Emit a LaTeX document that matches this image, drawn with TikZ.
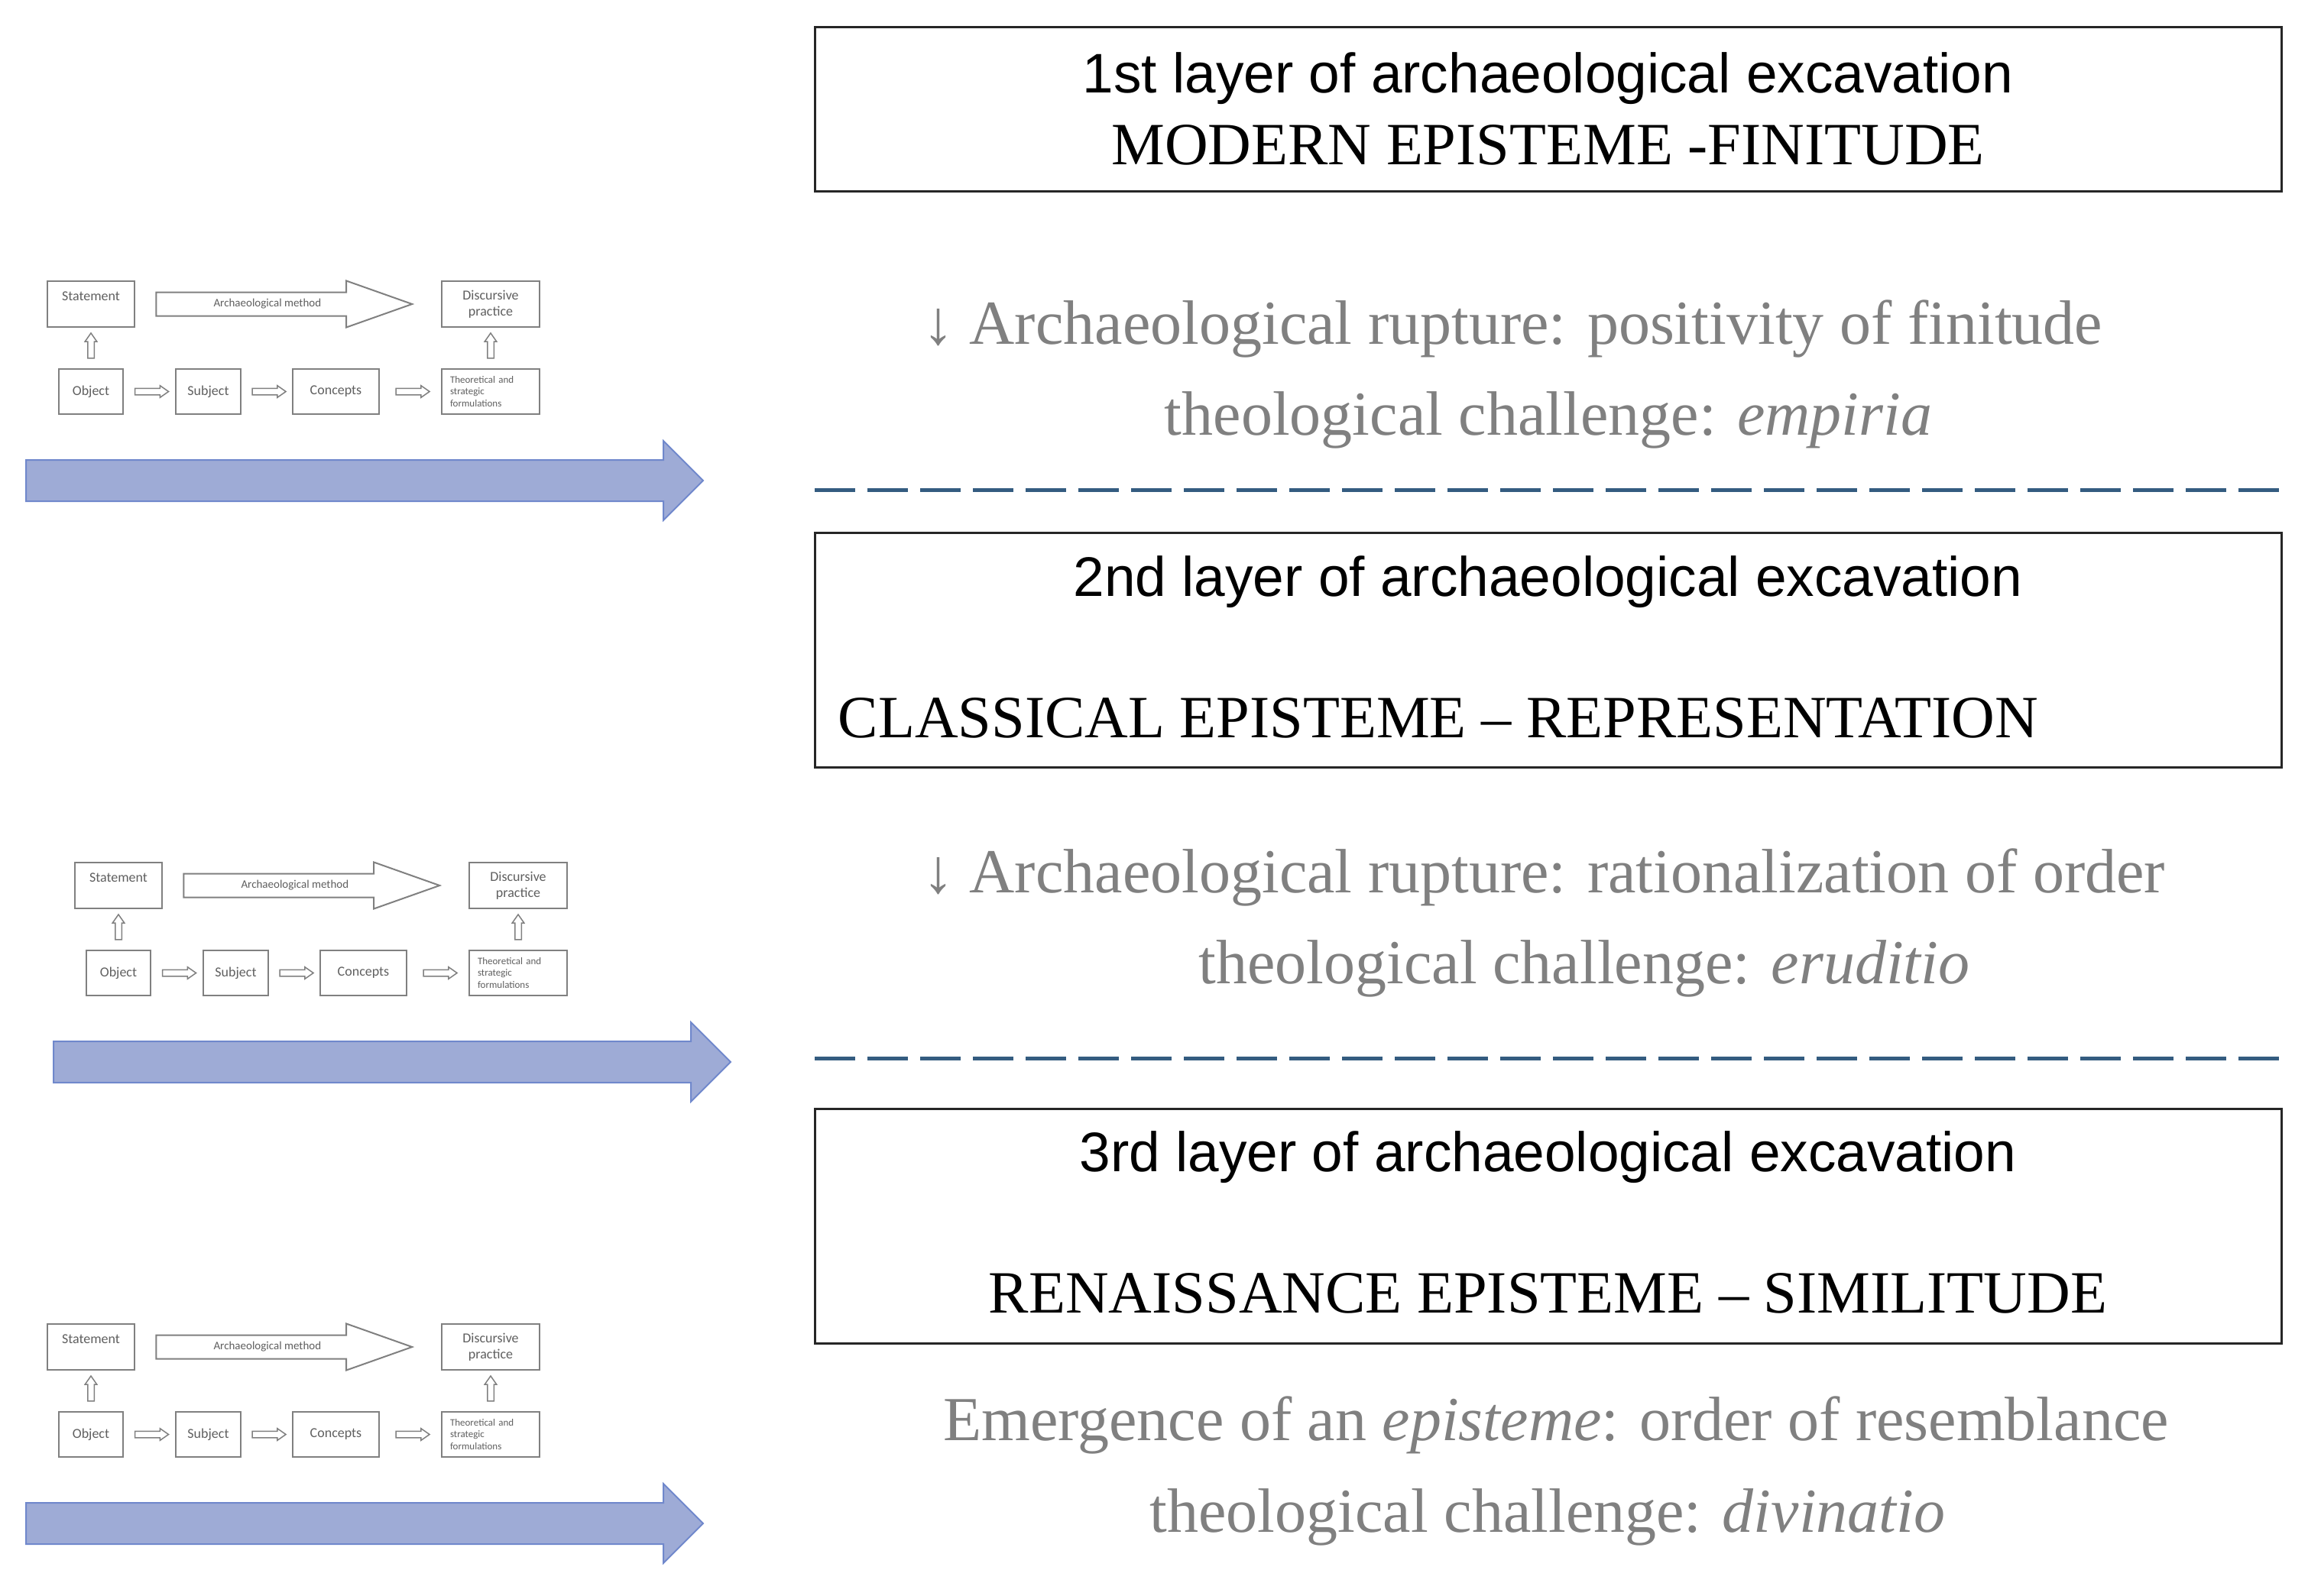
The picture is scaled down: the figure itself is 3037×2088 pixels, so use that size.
\documentclass[tikz,border=0pt]{standalone}
\usepackage{fontspec}
\setmainfont{Liberation Serif}
\newfontfamily\headfont{Liberation Sans}
\newfontfamily\sketchfont{Carlito}
\usetikzlibrary{shapes.arrows}

\definecolor{sepblue}{RGB}{52,92,128}
\definecolor{flowfill}{RGB}{158,171,214}
\definecolor{flowdraw}{RGB}{112,136,204}
\definecolor{sketchgray}{RGB}{128,128,128}
\definecolor{sketchtext}{RGB}{95,95,95}
\definecolor{rupturegray}{RGB}{128,128,128}

\tikzset{
  layerbox/.style={draw=black!85, line width=3pt, minimum width=1919pt, minimum height=307pt, inner sep=0pt},
  headtext/.style={font=\headfont\fontsize{73}{80}\selectfont, inner sep=0pt, anchor=base},
  epistext/.style={font=\fontsize{78.5}{86}\selectfont, inner sep=0pt, anchor=base},
  rupturetext/.style={text=rupturegray, font=\fontsize{82}{90}\selectfont, inner sep=0pt, anchor=base},
  sepline/.style={draw=sepblue, line width=5pt, dash pattern=on 53pt off 16pt},
  sketchbox/.style={draw=sketchgray, line width=2.5pt, inner sep=0pt, text=sketchtext,
    font=\sketchfont\fontsize{18}{21}\selectfont, align=center},
  sketcharrow/.style={single arrow, draw=sketchgray, line width=1.5pt, fill=white, inner sep=0pt,
    inner ysep=3.5pt, single arrow head extend=3.5pt, single arrow tip angle=70, minimum height=44pt},
  methodarrow/.style={single arrow, draw=sketchgray, line width=2pt, fill=white, inner sep=0pt,
    text height=9pt, text depth=2pt, inner ysep=9pt, single arrow head extend=15pt,
    single arrow tip angle=39, minimum height=335pt, text=sketchtext,
    font=\sketchfont\fontsize{15}{17}\selectfont},
  flowarrow/.style={single arrow, fill=flowfill, draw=flowdraw, line width=2pt, inner sep=0pt,
    inner ysep=26pt, single arrow head extend=25pt, single arrow tip angle=90, minimum height=886pt}
}

\begin{document}
\begin{tikzpicture}[x=1pt, y=-1pt]
	\useasboundingbox (0,0) rectangle (3037,2088);
	% method sketches and time arrows on the left
	\foreach \dx/\dy/\p in {0/0/a, 36/761/b, 0/1365/c} {
		\begin{scope}[shift={(\dx,\dy)}, name prefix=\p-]
			\node[sketchbox, minimum width=114pt, minimum height=60pt] (stmt) at (119,398) {Statement\\~};
			\node[sketchbox, minimum width=128pt, minimum height=60pt] (disc) at (642,398) {Discursive\\practice};
			\node[sketchbox, minimum width=84pt, minimum height=59pt] (obj) at (119,512.5) {Object};
			\node[sketchbox, minimum width=85pt, minimum height=59pt] (subj) at (272.5,512.5) {Subject};
			\node[sketchbox, minimum width=113pt, minimum height=59pt] (conc) at (439.5,512.5) {Concepts};
			\node[sketchbox, minimum width=128pt, minimum height=59pt, text width=106pt, align=left,
				font=\sketchfont\fontsize{13}{15.5}\selectfont] (theo) at (642,512.5) {Theoretical and\\strategic\\formulations};
			\node[methodarrow, anchor=tail] (method) at ([xshift=26pt]stmt.east) {Archaeological method};
			\path (obj.east) -- node[sketcharrow] {} (subj.west);
			\path (subj.east) -- node[sketcharrow] {} (conc.west);
			\path (conc.east) -- node[sketcharrow] {} (theo.west);
			\path (obj.north) -- node[sketcharrow, rotate=90, minimum height=33pt] {} (stmt.south);
			\path (theo.north) -- node[sketcharrow, rotate=90, minimum height=33pt] {} (disc.south);
			\node[flowarrow, anchor=tail] (flow) at (33,629) {};
		\end{scope}
	}
	% layers of excavation
	\node[layerbox, minimum height=215pt] (layer1) at (2025.5,142.5) {};
	\node[headtext] (head1) at ([yshift=-88pt]layer1.north) {1st layer of archaeological excavation};
	\node[epistext] (epi1) at ([yshift=-182pt]layer1.north) {MODERN EPISTEME -FINITUDE};
	\node[layerbox] (layer2) at (2025.5,850.5) {};
	\node[headtext] (head2) at ([yshift=-85pt]layer2.north) {2nd layer of archaeological excavation};
	\node[epistext, anchor=base west] (epi2) at ([xshift=32pt, yshift=-270pt]layer2.north west) {CLASSICAL EPISTEME -- REPRESENTATION};
	\node[layerbox] (layer3) at (2025.5,1604.5) {};
	\node[headtext] (head3) at ([yshift=-84pt]layer3.north) {3rd layer of archaeological excavation};
	\node[epistext] (epi3) at ([yshift=-269pt]layer3.north) {RENAISSANCE EPISTEME -- SIMILITUDE};
	% ruptures between the layers
	\node[rupturetext, anchor=base west] (rupt1) at (1207,450) {↓ Archaeological rupture: positivity of finitude};
	\node[rupturetext] (chal1) at (2026,569) {theological challenge: \textit{empiria}};
	\draw[sepline] (1066,641) -- (2985,641);
	\node[rupturetext, anchor=base west] (rupt2) at (1207,1168) {↓ Archaeological rupture: rationalization of order};
	\node[rupturetext] (chal2) at (2073,1287) {theological challenge: \textit{eruditio}};
	\draw[sepline] (1066,1385) -- (2985,1385);
	\node[rupturetext] (emerg) at (2036,1885) {Emergence of an \textit{episteme}: order of resemblance};
	\node[rupturetext] (chal3) at (2025,2005) {theological challenge: \textit{divinatio}};
\end{tikzpicture}
\end{document}
